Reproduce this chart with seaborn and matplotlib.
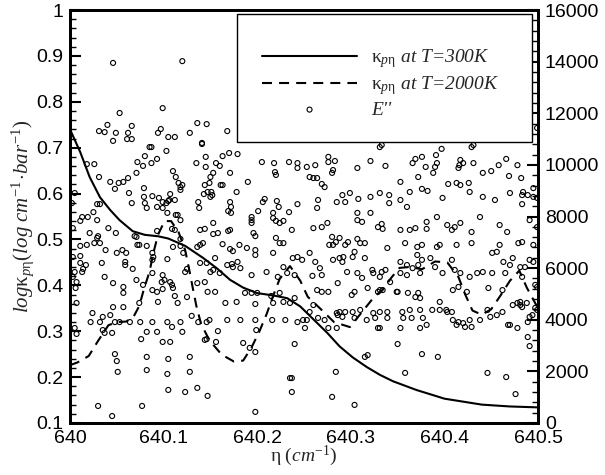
import matplotlib
matplotlib.use('Agg')
import matplotlib.pyplot as plt
import seaborn as sns
from matplotlib.ticker import MultipleLocator, FuncFormatter
from matplotlib.patches import Rectangle

# ---------------- data ----------------
# kappa at T=300K (solid)
k300_x = [640.000, 640.011, 640.021, 640.032, 640.043, 640.053, 640.067, 640.080,
          640.094, 640.105, 640.114, 640.123, 640.142, 640.157, 640.171, 640.185,
          640.200, 640.217, 640.232, 640.246, 640.260, 640.275, 640.288, 640.302,
          640.317, 640.331, 640.345, 640.370, 640.400, 640.440, 640.470, 640.500]
k300_y = [0.740, 0.690, 0.636, 0.592, 0.564, 0.542, 0.518, 0.510,
          0.507, 0.502, 0.494, 0.486, 0.460, 0.437, 0.412, 0.395,
          0.383, 0.378, 0.372, 0.354, 0.326, 0.296, 0.267, 0.243,
          0.222, 0.205, 0.191, 0.172, 0.153, 0.140, 0.136, 0.134]

# kappa at T=2000K (dashed)
k2000_x = [640.000, 640.008, 640.020, 640.030, 640.041, 640.050, 640.060, 640.068,
           640.074, 640.079, 640.085, 640.089, 640.094, 640.101, 640.108, 640.116,
           640.123, 640.127, 640.131, 640.135, 640.140, 640.149, 640.162, 640.175,
           640.185, 640.194, 640.202, 640.210, 640.217, 640.224, 640.235, 640.246,
           640.254, 640.267, 640.282, 640.299, 640.312, 640.325, 640.334, 640.343,
           640.352, 640.363, 640.376, 640.390, 640.403, 640.415, 640.422, 640.430,
           640.440, 640.450, 640.460, 640.470, 640.480, 640.488, 640.500]
k2000_y = [0.226, 0.232, 0.246, 0.279, 0.313, 0.320, 0.321, 0.332,
           0.355, 0.392, 0.430, 0.470, 0.510, 0.540, 0.540, 0.516,
           0.477, 0.438, 0.396, 0.355, 0.316, 0.280, 0.249, 0.234,
           0.236, 0.265, 0.298, 0.337, 0.377, 0.414, 0.442, 0.410,
           0.375, 0.350, 0.320, 0.309, 0.342, 0.375, 0.390, 0.416,
           0.438, 0.440, 0.435, 0.452, 0.450, 0.418, 0.381, 0.345,
           0.336, 0.348, 0.378, 0.410, 0.432, 0.395, 0.350]

# lower-state energy E'' of each line (scatter)
e_x = [
    640.046, 640.120, 640.053, 640.099, 640.031, 640.037, 640.040, 640.049, 640.046, 640.062,
    640.066, 640.061, 640.066, 640.094, 640.097, 640.105, 640.112, 640.128, 640.136, 640.146,
    640.141, 640.168, 640.018, 640.026, 640.031, 640.043, 640.048, 640.052, 640.057, 640.062,
    640.071, 640.072, 640.078, 640.080, 640.085, 640.087, 640.087, 640.093, 640.103, 640.110,
    640.113, 640.116, 640.118, 640.118, 640.107, 640.112, 640.120, 640.135, 640.141, 640.145,
    640.145, 640.150, 640.153, 640.156, 640.160, 640.163, 640.170, 640.144, 640.149, 640.143,
    640.150, 640.151, 640.161, 640.163, 640.171, 640.179, 640.190, 640.205, 640.218, 640.219,
    640.220, 640.234, 640.243, 640.243, 640.178, 640.005, 640.002, 640.029, 640.032, 640.025,
    640.019, 640.013, 640.011, 640.029, 640.063, 640.066, 640.079, 640.079, 640.080, 640.082,
    640.088, 640.095, 640.099, 640.103, 640.105, 640.106, 640.093, 640.099, 640.104, 640.113,
    640.115, 640.118, 640.137, 640.138, 640.147, 640.152, 640.169, 640.172, 640.171, 640.172,
    640.153, 640.139, 640.144, 640.153, 640.158, 640.169, 640.171, 640.194, 640.194, 640.194,
    640.201, 640.206, 640.208, 640.217, 640.217, 640.221, 640.223, 640.220, 640.224, 640.228,
    640.234, 640.243, 640.220, 640.237, 640.196, 640.198, 640.003, 640.021, 640.030, 640.029,
    640.041, 640.049, 640.069, 640.071, 640.093, 640.109, 640.112, 640.118,
    # right upper block
    640.331, 640.333, 640.429, 640.431, 640.397, 640.499, 640.276, 640.283, 640.276, 640.262,
    640.253, 640.321, 640.337, 640.369, 640.376, 640.366, 640.391, 640.392, 640.380, 640.390,
    640.388, 640.417, 640.416, 640.420, 640.415, 640.431, 640.458, 640.466, 640.478, 640.281,
    640.280, 640.307, 640.256, 640.260, 640.264, 640.269, 640.272, 640.353, 640.372, 640.404,
    640.413, 640.417, 640.426, 640.441, 640.450, 640.469, 640.482, 640.495, 640.265, 640.264,
    640.285, 640.291, 640.294, 640.299, 640.308, 640.321, 640.331, 640.341, 640.341, 640.353,
    640.363, 640.360, 640.376, 640.382, 640.398, 640.427, 640.441, 640.454, 640.470, 640.483,
    640.484, 640.489, 640.495, 640.499, 640.483, 640.260, 640.275, 640.269, 640.307, 640.321,
    640.307, 640.312, 640.329, 640.333, 640.334, 640.353, 640.363, 640.369, 640.381, 640.381,
    640.392, 640.403, 640.408, 640.411, 640.417, 640.429, 640.438, 640.459, 640.467, 640.491,
    640.499, 640.280, 640.288, 640.307,
    # left lower block
    640.011, 640.018, 640.026, 640.003, 640.011, 640.011, 640.017, 640.014, 640.013, 640.003,
    640.005, 640.032, 640.038, 640.034, 640.050, 640.056, 640.060, 640.059, 640.059, 640.072,
    640.074, 640.067, 640.088, 640.089, 640.088, 640.104, 640.088, 640.099, 640.101, 640.098,
    640.107, 640.109, 640.082, 640.110, 640.118, 640.121, 640.123, 640.125, 640.136, 640.139,
    640.142, 640.139, 640.146, 640.155, 640.150, 640.153, 640.160, 640.163, 640.171, 640.174,
    640.168, 640.173, 640.174, 640.179, 640.182, 640.181, 640.189, 640.198, 640.198, 640.194,
    640.217, 640.224, 640.228, 640.210, 640.222, 640.228, 640.232, 640.240, 640.238, 640.243,
    640.007, 640.006, 640.037, 640.046, 640.057, 640.057, 640.071, 640.078, 640.088, 640.093,
    640.094, 640.074, 640.099, 640.110, 640.112, 640.115, 640.125, 640.136, 640.144, 640.147,
    640.155, 640.166, 640.178, 640.187, 640.194, 640.200, 640.198, 640.215, 640.217, 640.224,
    640.228, 640.235, 640.240, 640.007, 640.024, 640.035, 640.046, 640.057, 640.022, 640.032,
    640.048, 640.053, 640.064, 640.075, 640.088, 640.104, 640.109, 640.118, 640.130, 640.137,
    640.146, 640.149, 640.168, 640.182, 640.198, 640.216, 640.230, 640.243, 640.043, 640.005,
    640.007, 640.035, 640.037, 640.045, 640.082, 640.093, 640.099, 640.107, 640.120, 640.076,
    640.158, 640.144, 640.146, 640.156, 640.185, 640.192, 640.198, 640.199, 640.240, 640.048,
    640.050, 640.051, 640.082, 640.082, 640.105, 640.104, 640.128, 640.128, 640.030, 640.045,
    640.077, 640.105, 640.123, 640.136, 640.147, 640.198, 640.235, 640.237, 640.237,
    # right lower block
    640.277, 640.281, 640.284, 640.294, 640.297, 640.304, 640.310, 640.315, 640.339, 640.358,
    640.371, 640.376, 640.392, 640.395, 640.413, 640.429, 640.459, 640.479, 640.483, 640.495,
    640.248, 640.256, 640.262, 640.267, 640.259, 640.269, 640.281, 640.288, 640.291, 640.292,
    640.296, 640.302, 640.307, 640.312, 640.315, 640.323, 640.324, 640.333, 640.337, 640.331,
    640.334, 640.342, 640.349, 640.353, 640.353, 640.360, 640.360, 640.366, 640.371, 640.372,
    640.376, 640.374, 640.385, 640.390, 640.398, 640.408, 640.411, 640.417, 640.427, 640.435,
    640.441, 640.451, 640.451, 640.456, 640.463, 640.465, 640.470, 640.473, 640.481, 640.483,
    640.486, 640.491, 640.495, 640.497, 640.499, 640.264, 640.269, 640.276, 640.286, 640.301,
    640.304, 640.318, 640.329, 640.331, 640.350, 640.361, 640.369, 640.372, 640.374, 640.395,
    640.409, 640.415, 640.424, 640.447, 640.462, 640.473, 640.478, 640.481, 640.483, 640.494,
    640.497, 640.499, 640.249, 640.253, 640.256, 640.260, 640.265, 640.272, 640.285, 640.286,
    640.288, 640.291, 640.294, 640.302, 640.304, 640.310, 640.317, 640.324, 640.326, 640.331,
    640.339, 640.339, 640.355, 640.356, 640.363, 640.365, 640.374, 640.377, 640.387, 640.395,
    640.402, 640.403, 640.408, 640.409, 640.415, 640.420, 640.427, 640.429, 640.438, 640.446,
    640.449, 640.456, 640.462, 640.470, 640.478, 640.481, 640.488, 640.489, 640.491, 640.251,
    640.276, 640.285, 640.329, 640.331, 640.353, 640.374, 640.381, 640.413, 640.422, 640.468,
    640.350, 640.315, 640.318, 640.376, 640.393, 640.284, 640.358, 640.446, 640.466, 640.280,
    640.304, 640.476, 640.489, 640.491,
]
e_val = [
    13950, 14020, 12010, 12200, 11310, 11270, 11550, 11240, 10930, 11240,
    11510, 11000, 11000, 11240, 11390, 11080, 11080, 11240, 11620, 11580,
    10850, 11310, 10030, 10030, 9530, 9340, 9070, 9300, 9340, 9490,
    9690, 10110, 9960, 10340, 10690, 10690, 10070, 10230, 10540, 9760,
    9530, 9300, 9140, 9030, 8870, 8640, 9220, 10070, 10810, 10310,
    9920, 9530, 9690, 10070, 9960, 10340, 10460, 9220, 9300, 8870,
    8760, 8950, 9220, 9220, 9690, 10420, 9340, 10110, 10070, 9720,
    9610, 10110, 10070, 9880, 8950, 8910, 8520, 8480, 8480, 8170,
    7980, 7980, 7830, 7860, 8910, 8520, 9100, 8760, 8520, 8330,
    8790, 8720, 8560, 8520, 8600, 8640, 8370, 8330, 8140, 8060,
    8060, 7860, 8560, 8330, 8950, 8830, 8210, 8140, 8560, 8370,
    7750, 7480, 7520, 7320, 7360, 7440, 7480, 7980, 7860, 7750,
    8210, 8560, 8680, 8140, 7940, 8600, 8370, 7830, 7750, 7830,
    8170, 8480, 7170, 7480, 7360, 7240, 7550, 7360, 7240, 7170,
    7550, 7360, 7240, 7210, 7440, 7520, 7480, 7130,
    # right upper block
    10690, 10770, 10690, 10770, 10620, 11430, 10310, 10150, 10110, 9990,
    9920, 10150, 9960, 10230, 10310, 10070, 10380, 10070, 9920, 9920,
    9690, 10190, 9990, 10070, 9880, 10070, 9990, 10230, 9990, 9800,
    9690, 9880, 9530, 9490, 9490, 9260, 9140, 9340, 9530, 9260,
    9300, 9220, 9300, 9690, 9760, 9570, 9490, 9100, 8640, 8330,
    8560, 8830, 8560, 8910, 8680, 8760, 8910, 8830, 8520, 8640,
    8950, 8370, 9070, 8990, 8720, 8950, 8760, 8640, 8910, 8830,
    8950, 8830, 8760, 8720, 8480, 7550, 7750, 7590, 8140, 8140,
    7860, 7790, 7590, 7710, 7520, 7480, 7480, 7550, 7520, 7790,
    7980, 7670, 7480, 7590, 7750, 7400, 7980, 7670, 7400, 7860,
    7590, 7210, 7170, 7130,
    # left lower block
    6860, 6900, 6970, 6430, 6470, 6200, 6120, 5970, 5850, 5660,
    5850, 6970, 6700, 6200, 6590, 6700, 6590, 6240, 6120, 6900,
    6900, 5970, 6590, 6430, 6320, 6350, 5810, 5730, 5540, 5460,
    5460, 5350, 6860, 6820, 6860, 6590, 5850, 5970, 6820, 6900,
    6970, 6200, 6200, 6390, 5850, 5930, 5810, 6930, 6740, 6660,
    6120, 6160, 6040, 6240, 6000, 6900, 6780, 6700, 6510, 5730,
    6590, 6970, 6970, 5850, 5660, 6040, 5810, 5730, 6390, 6430,
    5460, 5230, 5660, 5420, 5270, 5040, 5540, 5350, 5150, 5080,
    4690, 4650, 5190, 5230, 4920, 4650, 4880, 5420, 5460, 5080,
    5080, 4650, 4690, 5040, 5040, 5040, 4610, 4920, 4650, 5040,
    4690, 4650, 4840, 4650, 4260, 4110, 4490, 4490, 3910, 3910,
    3910, 3910, 3910, 3910, 3910, 3910, 3720, 3910, 4150, 3910,
    3910, 3990, 3990, 3990, 3990, 3990, 3990, 3910, 4180, 3680,
    3450, 3600, 3490, 3490, 3530, 3530, 3140, 3140, 3530, 3250,
    3560, 3220, 3250, 3140, 3100, 2910, 2750, 3600, 3060, 2670,
    2400, 1980, 2560, 2050, 2480, 1900, 2560, 1980, 660, 270,
    660, 1280, 1200, 1360, 1050, 430, 1740, 1740, 1200,
    # right lower block
    6900, 6900, 7010, 6900, 7010, 6630, 6970, 6970, 6780, 6970,
    6820, 6900, 6820, 6900, 6900, 6970, 6900, 6970, 7010, 6900,
    6320, 6590, 6240, 6000, 5700, 5730, 6320, 6390, 6240, 6430,
    5850, 6430, 5810, 5620, 6390, 5930, 5810, 5850, 5930, 5660,
    5150, 5460, 5080, 6240, 5810, 6120, 5730, 6000, 6510, 6120,
    6320, 5810, 6390, 6040, 5810, 6320, 5930, 5810, 5660, 5810,
    5850, 5810, 6590, 6630, 6240, 5810, 6120, 6390, 6040, 5660,
    6040, 6320, 6240, 5350, 5270, 5150, 5080, 5080, 5420, 4960,
    5080, 5230, 5080, 5150, 5080, 5040, 4880, 5040, 4840, 4690,
    5150, 5270, 5080, 5230, 5150, 4570, 4650, 4690, 4490, 4180,
    4460, 4380, 3990, 3990, 4300, 4570, 4070, 3990, 4260, 4180,
    4300, 4110, 4300, 4300, 4070, 4380, 3990, 4260, 4070, 4300,
    4300, 4070, 4300, 4070, 4380, 4070, 4380, 4070, 4380, 4380,
    4380, 4300, 4300, 3990, 3910, 3870, 3990, 3720, 3990, 4380,
    4110, 4180, 4300, 3800, 3680, 4570, 4650, 3910, 4110, 3680,
    3680, 3680, 3680, 3680, 3680, 3680, 3800, 3800, 3720, 3800,
    3060, 2560, 2630, 2670, 2560, 1980, 1940, 1940, 1780, 1010,
    700, 1120, 3330, 2980,
]

x_ticks = [640.0, 640.1, 640.2, 640.3, 640.4, 640.5]
left_ticks = [0.1, 0.2, 0.3, 0.4, 0.5, 0.6, 0.7, 0.8, 0.9, 1.0]
right_ticks = [0, 2000, 4000, 6000, 8000, 10000, 12000, 14000, 16000]

legend_labels = [r'$\mathrm{\kappa}_{p\mathrm{\eta}}$ at T=300K',
                 r'$\mathrm{\kappa}_{p\mathrm{\eta}}$ at T=2000K',
                 r"E''"]

# ---------------- style ----------------
sns.set_theme(style='white')
plt.rcParams['font.family'] = ['Liberation Sans', 'DejaVu Sans']
plt.rcParams['mathtext.fontset'] = 'custom'
plt.rcParams['mathtext.rm'] = 'Liberation Serif'
plt.rcParams['mathtext.it'] = 'Liberation Serif:italic'
plt.rcParams['mathtext.bf'] = 'Liberation Serif:bold'
plt.rcParams['axes.edgecolor'] = 'black'
plt.rcParams['xtick.color'] = 'black'
plt.rcParams['ytick.color'] = 'black'

fig = plt.figure(figsize=(6.05, 4.75), dpi=100)
ax = fig.add_axes([0.1157, 0.1095, 0.7736, 0.8694])
ax2 = ax.twinx()

sns.lineplot(x=k300_x, y=k300_y, ax=ax, color='black', linewidth=1.5, sort=False)
sns.lineplot(x=k2000_x, y=k2000_y, ax=ax, color='black', linewidth=1.5, sort=False,
             linestyle=(0, (4.8, 3.4)))
sns.scatterplot(x=e_x, y=e_val, ax=ax2, marker='o', s=13, facecolor='none',
                edgecolor='black', linewidth=0.8, legend=False)

ax.set_xlim(640.0, 640.5)
ax.set_ylim(0.1, 1.0)
ax2.set_ylim(0, 16000)

ax.set_xticks(x_ticks)
ax.set_yticks(left_ticks)
ax2.set_yticks(right_ticks)
ax.xaxis.set_minor_locator(MultipleLocator(0.02))
ax.yaxis.set_minor_locator(MultipleLocator(0.02))
ax2.yaxis.set_minor_locator(MultipleLocator(400))
ax.xaxis.set_major_formatter(FuncFormatter(lambda v, p: '%g' % round(v, 3)))
ax.yaxis.set_major_formatter(FuncFormatter(lambda v, p: '%g' % round(v, 3)))
ax2.yaxis.set_major_formatter(FuncFormatter(lambda v, p: '%d' % round(v)))

for a in (ax, ax2):
    for s in a.spines.values():
        s.set_linewidth(2)
        s.set_color('black')
ax.tick_params(axis='both', which='major', direction='in', length=8, width=1.5,
               labelsize=14, pad=5, top=False, right=False)
ax.tick_params(axis='both', which='minor', direction='in', length=4, width=1,
               top=False, right=False)
ax2.tick_params(axis='y', which='major', direction='in', length=8, width=1.5,
                labelsize=14, pad=5)
ax2.tick_params(axis='y', which='minor', direction='in', length=4, width=1)

ax.set_xlabel(r'$\mathrm{\eta}\ (cm^{-1})$', fontsize=14, labelpad=-2)
ax.set_ylabel(r'$log\mathrm{\kappa}_{p\mathrm{\eta}}(log\ cm^{-1}\!\cdot\! bar^{-1})$',
              fontsize=15, labelpad=0)
ax2.set_ylabel(r"$E''(cm^{-1})$", fontsize=14, labelpad=6)

# legend box (white, opaque) drawn as a frame in axes coordinates
box = Rectangle((0.357, 0.680), 0.630, 0.310, transform=ax2.transAxes,
                facecolor='white', edgecolor='black', linewidth=1.0, zorder=4)
ax2.add_patch(box)

handles = [ax.get_lines()[0], ax.get_lines()[1], ax2.collections[0]]
leg = ax2.legend(handles=handles, labels=legend_labels, loc='center left',
                 bbox_to_anchor=(0.410, 0.823), borderaxespad=0, borderpad=0,
                 frameon=False, handlelength=4.9, handletextpad=0.7,
                 labelspacing=0.2, scatterpoints=1,
                 prop={'family': 'Liberation Serif', 'style': 'italic', 'size': 14})
leg.set_zorder(5)

fig.savefig('out.png', dpi=100)
